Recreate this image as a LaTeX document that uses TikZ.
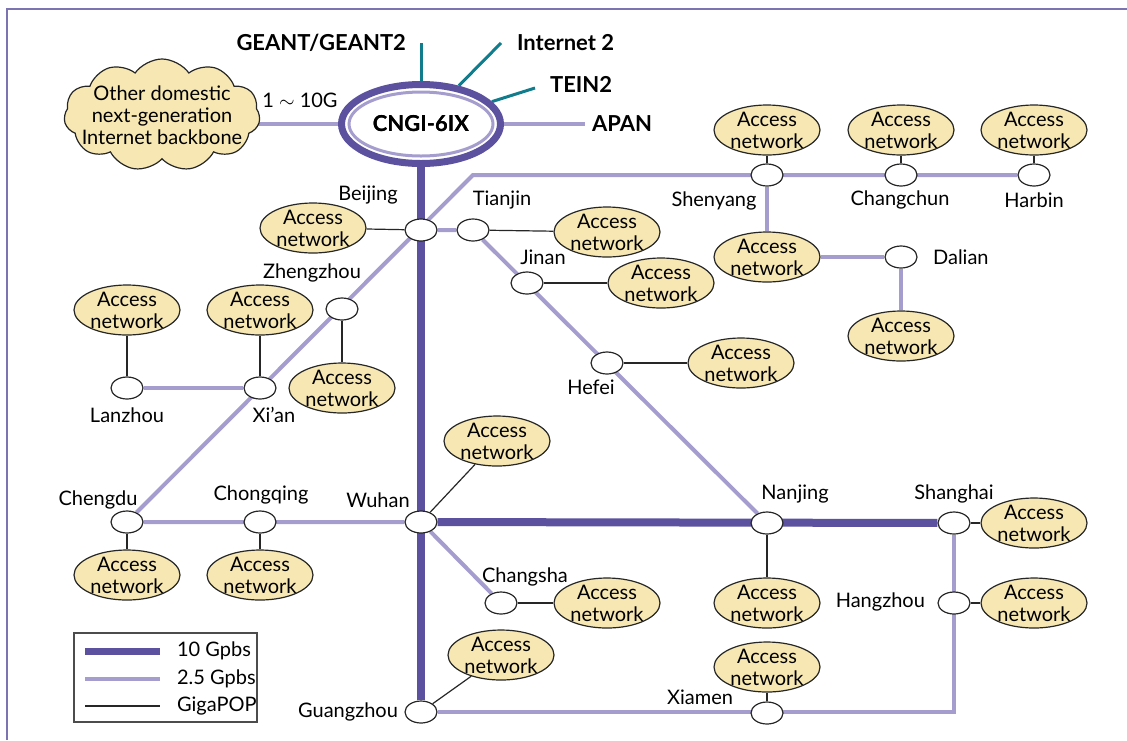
\documentclass[tikz,border=0pt]{standalone}
\usepackage{fontspec}
\setmainfont{Lato}
\usetikzlibrary{shapes.geometric,shapes.symbols,backgrounds}
\definecolor{darkpurple}{HTML}{5B519E}
\definecolor{lightpurple}{HTML}{A69DCF}
\definecolor{linkteal}{HTML}{117C8C}
\definecolor{accfill}{HTML}{F6E7B3}
\begin{document}
\begin{tikzpicture}[x=0.5pt,y=-0.5pt,
    font=\fontsize{10}{11}\selectfont,
    pop/.style={ellipse,draw=black!85,fill=white,line width=0.6pt,minimum width=16pt,minimum height=11pt,inner sep=0pt},
    acc/.style={ellipse,draw=black!85,fill=accfill,line width=0.6pt,minimum width=53pt,minimum height=25pt,inner sep=-1.5pt,align=center},
    fast/.style={draw=darkpurple,line width=4pt},
    slow/.style={draw=lightpurple,line width=2pt},
    giga/.style={draw=black!85,line width=0.6pt},
    ext/.style={draw=linkteal,line width=1.5pt},
    tag/.style={font=\fontsize{11}{13}\selectfont\bfseries}]
    \useasboundingbox (0,0) rectangle (1127,740);

    % Frame
    \draw[darkpurple!80,line width=0.8pt] (7,740) -- (7,9) -- (1127,9);

    % Exchange point
    \node[ellipse,draw=darkpurple,line width=3.5pt,fill=white,minimum width=79.5pt,minimum height=39.5pt,tag] (cngi) at (421,124) {CNGI-6IX};
    \draw[lightpurple,line width=1.5pt] (cngi.center) ellipse [x radius=36pt,y radius=16pt];
    \node[tag] at (cngi) {CNGI-6IX};

    % Other backbones
    \node[cloud,cloud puffs=11,cloud puff arc=110,aspect=1.7,draw=black!85,fill=accfill,line width=0.6pt,minimum width=98pt,minimum height=56pt,inner sep=0pt] (cloud) at (162,115) {};
    \node[align=center] (cloudtext) at (cloud) {Other domestic\\next-generation\\Internet backbone};
    \node (rate) at (300,100) {1 $\sim$ 10G};

    \node[tag,anchor=east] (geant) at (413,43) {GEANT/GEANT2};
    \coordinate (geantend) at (421,43);
    \node[tag,anchor=west] (inet) at (510,43) {Internet 2};
    \coordinate (inetend) at (501,43);
    \node[tag,anchor=west] (tein) at (543,84) {TEIN2};
    \coordinate (teinend) at (535,88);
    \node[tag,anchor=west] (apan) at (585,124) {APAN};

    % GigaPOPs
    \node[pop] (beijing) at (421,230) {};
    \node[pop] (tianjin) at (473,230) {};
    \node[pop] (jinan) at (527,283) {};
    \node[pop] (hefei) at (607,363) {};
    \node[pop] (shenyang) at (767,175) {};
    \node[pop] (changchun) at (901,175) {};
    \node[pop] (harbin) at (1034,175) {};
    \node[pop] (dalian) at (901,257) {};
    \node[pop] (zhengzhou) at (342,309) {};
    \node[pop] (xian) at (260,388) {};
    \node[pop] (lanzhou) at (127,388) {};
    \node[pop] (chengdu) at (127,522) {};
    \node[pop] (chongqing) at (260,522) {};
    \node[pop] (wuhan) at (421,522) {};
    \node[pop] (changsha) at (501,603) {};
    \node[pop] (guangzhou) at (421,712) {};
    \node[pop] (nanjing) at (767,523) {};
    \node[pop] (shanghai) at (954,523) {};
    \node[pop] (hangzhou) at (954,603) {};
    \node[pop] (xiamen) at (767,713) {};
    \coordinate (bjturn) at (473,175);

    % City names
    \node (lbeijing) at (368,195) {Beijing};
    \node (ltianjin) at (502,200) {Tianjin};
    \node (ljinan) at (543,257) {Jinan};
    \node (lhefei) at (591,387) {Hefei};
    \node (lshenyang) at (714,201) {Shenyang};
    \node (lchangchun) at (900,200) {Changchun};
    \node (lharbin) at (1034,200) {Harbin};
    \node[anchor=west] (ldalian) at (926,257) {Dalian};
    \node (lzhengzhou) at (312,273) {Zhengzhou};
    \node (lxian) at (274,415) {Xi'an};
    \node (llanzhou) at (127,415) {Lanzhou};
    \node (lchengdu) at (98,500) {Chengdu};
    \node (lchongqing) at (261,495) {Chongqing};
    \node (lwuhan) at (378,500) {Wuhan};
    \node (lchangsha) at (525,577) {Changsha};
    \node[anchor=east] (lguangzhou) at (405,712) {Guangzhou};
    \node (lnanjing) at (795,494) {Nanjing};
    \node (lshanghai) at (954,494) {Shanghai};
    \node[anchor=east] (lhangzhou) at (932,602) {Hangzhou};
    \node (lxiamen) at (700,697) {Xiamen};

    % Access networks
    \node[acc] (accbj) at (313,228) {Access\\network};
    \node[acc] (acctj) at (607,232) {Access\\network};
    \node[acc] (accjn) at (661,283) {Access\\network};
    \node[acc] (acchf) at (741,363) {Access\\network};
    \node[acc] (accsy) at (767,130) {Access\\network};
    \node[acc] (acccc) at (901,130) {Access\\network};
    \node[acc] (acchb) at (1034,130) {Access\\network};
    \node[acc] (accsy2) at (767,257) {Access\\network};
    \node[acc] (accdl) at (901,336) {Access\\network};
    \node[acc] (acclz) at (127,310) {Access\\network};
    \node[acc] (accxa) at (260,310) {Access\\network};
    \node[acc] (acczz) at (342,388) {Access\\network};
    \node[acc] (acccd) at (127,575) {Access\\network};
    \node[acc] (acccq) at (260,575) {Access\\network};
    \node[acc] (accwh) at (497,441) {Access\\network};
    \node[acc] (acccs) at (607,603) {Access\\network};
    \node[acc] (accgz) at (501,655) {Access\\network};
    \node[acc] (accnj) at (767,603) {Access\\network};
    \node[acc] (accsh) at (1034,523) {Access\\network};
    \node[acc] (acchz) at (1034,603) {Access\\network};
    \node[acc] (accxm) at (767,667) {Access\\network};

    % Legend
    \node[draw=black!70,line width=0.6pt,minimum width=91.5pt,minimum height=44.5pt,inner sep=0pt] (legend) at (165.5,677.5) {};
    \node[anchor=west] (key1) at (170,651) {10 Gpbs};
    \node[anchor=west] (key2) at (170,679) {2.5 Gpbs};
    \node[anchor=west] (key3) at (170,706) {GigaPOP};
    \coordinate (k1a) at (85,651); \coordinate (k1b) at (160,651);
    \coordinate (k2a) at (85,679); \coordinate (k2b) at (160,679);
    \coordinate (k3a) at (85,706); \coordinate (k3b) at (160,706);
    \draw[fast,line width=3.5pt] (k1a) -- (k1b);
    \draw[slow] (k2a) -- (k2b);
    \draw[giga] (k3a) -- (k3b);

    \begin{scope}[on background layer]
        % Links abroad
        \draw[ext] (cngi) -- (geantend);
        \draw[ext] (cngi) -- (inetend);
        \draw[ext] (cngi) -- (teinend);
        \draw[slow] (cngi) -- (apan);
        \draw[slow] (cngi.west) -- (cngi.west -| cloud.center);

        % 10 Gbps
        \draw[fast] (cngi) -- (guangzhou);
        \draw[fast] (wuhan) -- (shanghai);

        % 2.5 Gbps
        \draw[slow] (chengdu) -- (bjturn) -- (harbin);
        \draw[slow] (lanzhou) -- (xian);
        \draw[slow] (beijing) -- (tianjin) -- (nanjing);
        \draw[slow] (chengdu) -- (wuhan) -- (changsha);
        \draw[slow] (shanghai) |- (guangzhou);
        \draw[slow] (shenyang) -- (accsy2) -- (dalian) -- (accdl);

        % GigaPOP
        \foreach \a/\b in {lanzhou/acclz,xian/accxa,zhengzhou/acczz,beijing/accbj,
            tianjin/acctj,jinan/accjn,hefei/acchf,shenyang/accsy,changchun/acccc,
            harbin/acchb,chengdu/acccd,chongqing/acccq,wuhan/accwh,changsha/acccs,
            guangzhou/accgz,nanjing/accnj,shanghai/accsh,hangzhou/acchz,xiamen/accxm}
            \draw[giga] (\a) -- (\b);
    \end{scope}
\end{tikzpicture}
\end{document}
